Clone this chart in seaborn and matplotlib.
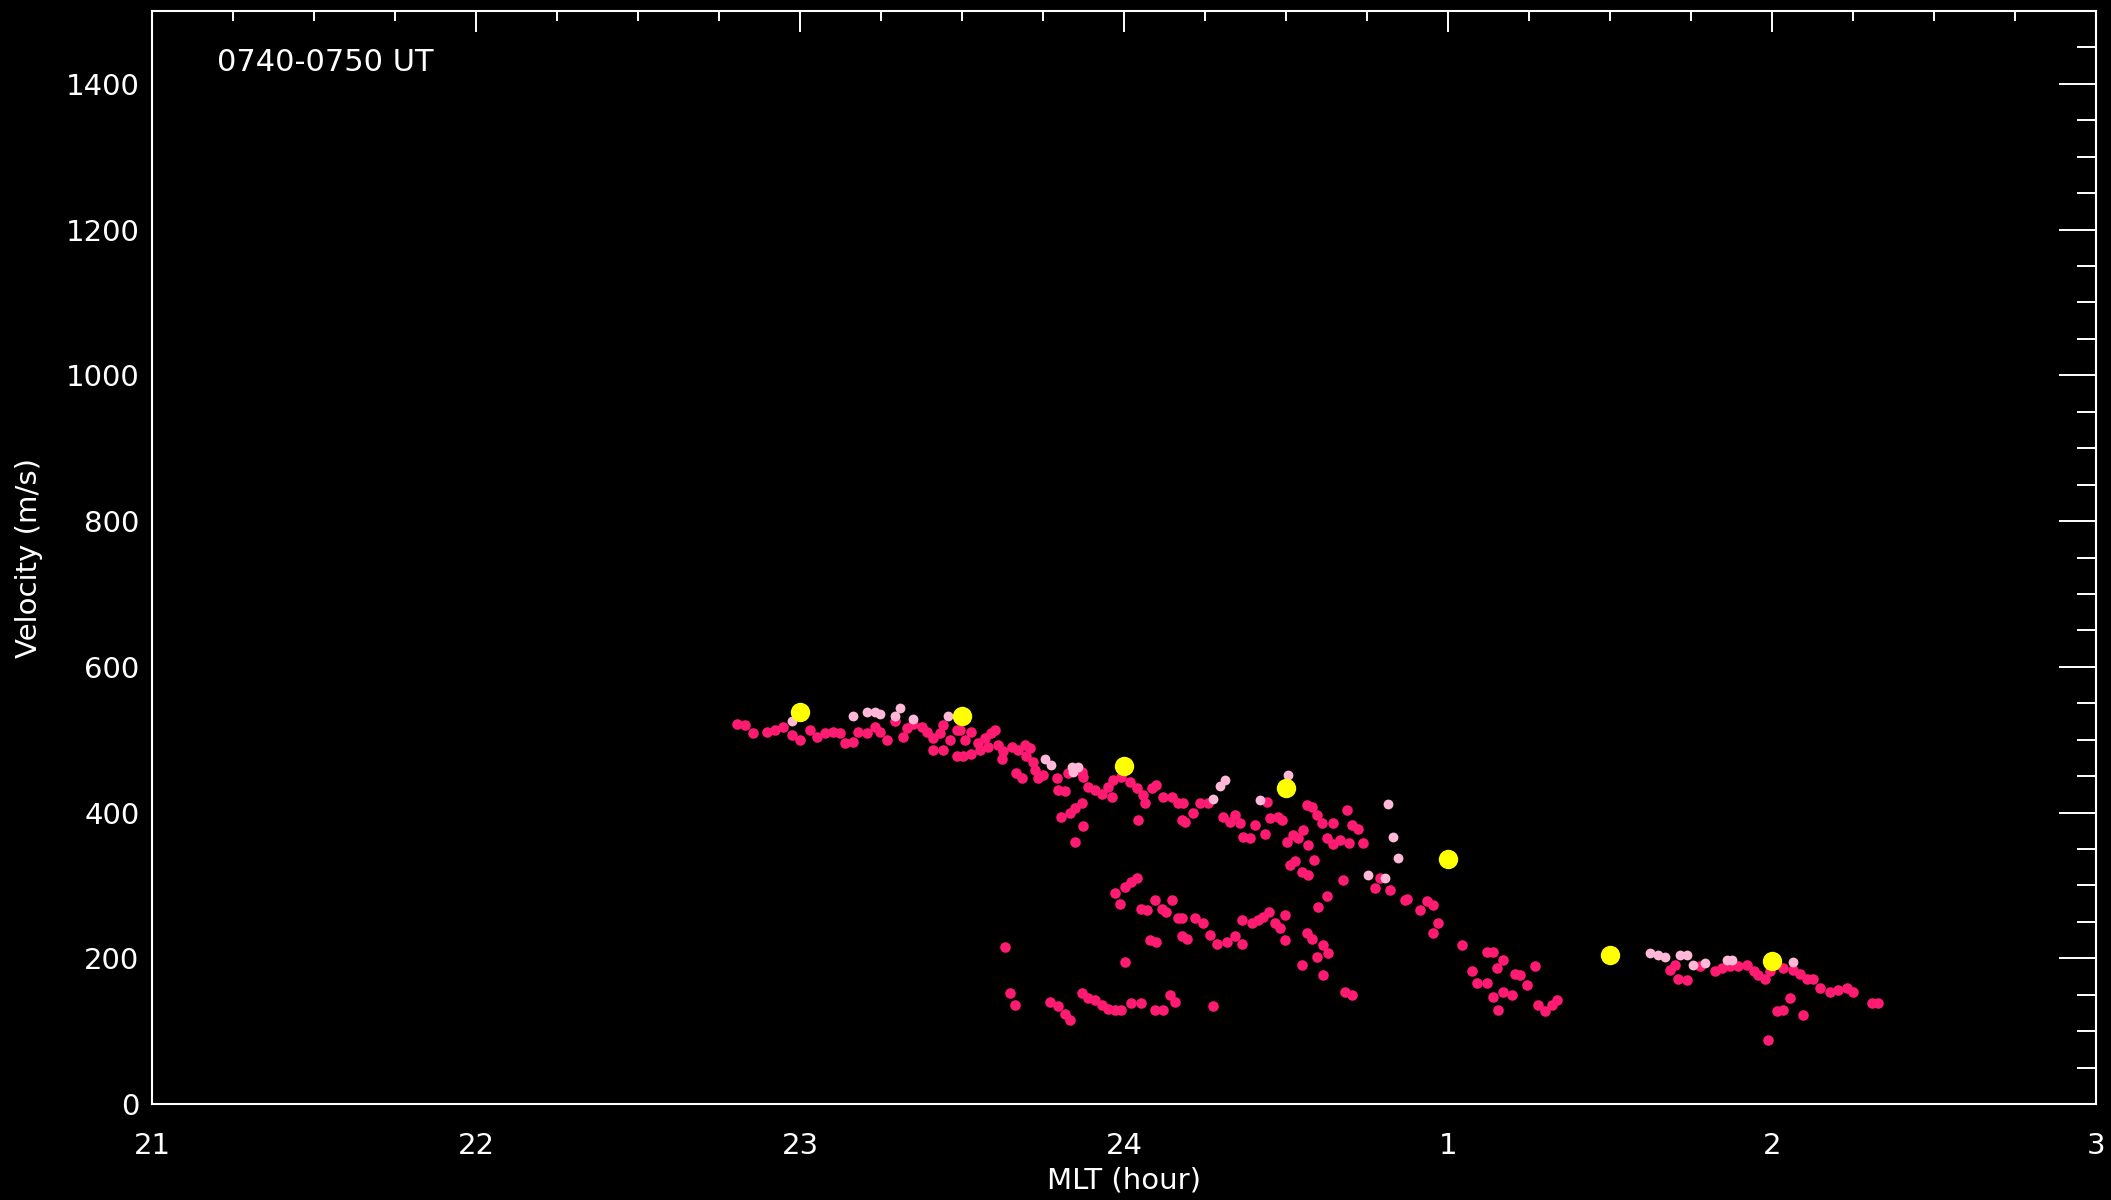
import numpy as np
import pandas as pd
import matplotlib
matplotlib.use("Agg")
import matplotlib.pyplot as plt
from matplotlib.ticker import MultipleLocator, FixedLocator, FixedFormatter
import seaborn as sns

# ---------------- data ----------------
# magenta: individual line-of-sight derived velocities
mag_mlt = [
    22.805, 22.830, 22.856, 22.897, 22.923, 22.949, 22.974, 23.000, 23.031, 23.051,
    23.077, 23.103, 23.124, 23.139, 23.165, 23.180, 23.206, 23.232, 23.247, 23.268,
    23.293, 23.319, 23.329, 23.350, 23.376, 23.391, 23.412, 23.432, 23.442, 23.463,
    23.484, 23.412, 23.442, 23.484,
    23.493, 23.509, 23.529, 23.550, 23.571, 23.591, 23.601, 23.504, 23.529, 23.555,
    23.581, 23.612, 23.627, 23.622, 23.653, 23.673, 23.694, 23.709, 23.699, 23.720,
    23.725, 23.668, 23.684, 23.735, 23.751, 23.792, 23.797, 23.818, 23.828, 23.869,
    23.874, 23.890, 23.910, 23.931, 23.951, 23.962, 23.967, 23.992, 24.018, 24.039,
    24.059, 24.064, 24.085, 24.100, 24.121, 24.147, 24.167, 24.178, 24.044, 23.869,
    23.848, 23.833, 23.807, 23.874, 23.848,
    23.632, 23.648, 23.663, 23.771, 23.797, 23.818, 23.833, 23.869, 23.890, 23.910,
    23.931, 23.951, 23.972, 23.992, 24.023, 24.054, 24.095, 24.121, 24.142, 24.157,
    23.972, 23.987, 24.003, 24.023, 24.039, 24.054, 24.070, 24.095, 24.116, 24.131,
    24.147, 24.167, 24.080, 24.100, 24.178, 24.003,
    24.183, 24.188, 24.214, 24.235, 24.260, 24.307, 24.327, 24.343, 24.358, 24.368,
    24.389, 24.404, 24.435, 24.440, 24.451, 24.476, 24.487, 24.502, 24.523, 24.538,
    24.554, 24.564, 24.579, 24.595, 24.569, 24.585, 24.610, 24.626, 24.646, 24.646,
    24.667, 24.687, 24.693, 24.703, 24.723, 24.739, 24.677, 24.513, 24.528, 24.549,
    24.569, 24.626, 24.600, 24.775, 24.790, 24.821, 24.867,
    24.178, 24.219, 24.245, 24.194, 24.266, 24.286, 24.317, 24.343, 24.363, 24.363,
    24.394, 24.415, 24.430, 24.446, 24.466, 24.482, 24.497, 24.497, 24.564, 24.579,
    24.615, 24.631, 24.595, 24.549, 24.615, 24.682, 24.703, 24.276,
    24.872, 24.913, 24.934, 24.954, 24.970, 24.954, 25.042, 25.119, 25.140, 25.170,
    25.150, 25.073, 25.088, 25.119, 25.140, 25.170, 25.196, 25.207, 25.222, 25.243,
    25.268, 25.155, 25.279, 25.299, 25.320, 25.335,
    25.685, 25.701, 25.711, 25.737, 25.778, 25.824, 25.845, 25.871, 25.896, 25.922,
    25.943, 25.958, 25.979, 25.994, 26.035, 26.066, 26.087, 26.107, 26.128, 26.148,
    26.179, 26.205, 26.231, 26.251, 26.308, 26.328, 26.056, 26.015, 26.035, 26.097,
    25.989,
]
mag_vel = [
    522, 520, 509, 511, 513, 518, 506, 500, 513, 504,
    509, 511, 509, 495, 497, 511, 509, 518, 511, 500,
    525, 504, 516, 522, 518, 511, 502, 509, 520, 500,
    513, 486, 486, 477,
    513, 500, 511, 495, 502, 509, 513, 477, 481, 486,
    490, 493, 484, 474, 490, 486, 493, 488, 477, 470,
    458, 454, 447, 447, 451, 447, 431, 429, 454, 456,
    449, 435, 431, 426, 435, 422, 445, 449, 442, 433,
    424, 413, 433, 438, 422, 422, 413, 390, 390, 413,
    406, 399, 394, 381, 360,
    216, 152, 136, 140, 134, 124, 115, 152, 145, 143,
    136, 131, 129, 129, 138, 138, 129, 129, 150, 140,
    289, 275, 298, 305, 310, 268, 266, 280, 268, 264,
    280, 255, 225, 223, 230, 195,
    413, 387, 399, 413, 413, 394, 387, 397, 385, 367,
    365, 383, 371, 415, 392, 394, 390, 360, 369, 365,
    376, 410, 408, 397, 355, 335, 385, 365, 385, 357,
    362, 403, 358, 383, 378, 358, 307, 328, 333, 319,
    314, 285, 271, 296, 310, 294, 280,
    255, 255, 248, 227, 232, 220, 223, 230, 220, 252,
    248, 252, 257, 264, 248, 241, 259, 225, 234, 227,
    218, 207, 202, 191, 177, 154, 150, 134,
    282, 266, 278, 273, 248, 234, 218, 209, 209, 198,
    186, 182, 166, 166, 147, 154, 150, 179, 177, 163,
    189, 129, 136, 127, 136, 143,
    184, 191, 172, 170, 189, 182, 186, 189, 189, 191,
    182, 177, 172, 182, 186, 184, 179, 172, 172, 159,
    154, 156, 159, 154, 138, 138, 145, 127, 129, 122,
    88,
]

# light pink: secondary estimates
pink_mlt = [
    22.974, 23.165, 23.206, 23.232, 23.247, 23.293, 23.309, 23.350, 23.458,
    23.756, 23.776, 23.838, 23.859, 23.843,
    24.312, 24.296, 24.276, 24.420, 24.507, 24.816, 24.831, 24.847, 24.754, 24.806,
    25.624, 25.649, 25.670, 25.716, 25.737, 25.757, 25.793, 25.860, 25.876, 26.066,
]
pink_vel = [
    525, 532, 538, 538, 535, 532, 543, 529, 532,
    474, 465, 463, 463, 456,
    445, 436, 419, 417, 452, 412, 366, 337, 314, 310,
    207, 205, 202, 205, 205, 191, 193, 198, 198, 195,
]

# yellow: half-hour averaged velocities
avg_mlt = [23.0, 23.5, 24.0, 24.5, 25.0, 25.5, 26.0]
avg_vel = [538, 532, 464, 434, 336, 205, 196]

x_ticks = [21, 22, 23, 24, 25, 26, 27]
x_tick_labels = ["21", "22", "23", "24", "1", "2", "3"]
y_ticks = [0, 200, 400, 600, 800, 1000, 1200, 1400]

# ---------------- styling ----------------
sns.set_theme(style="dark", rc={
    "axes.facecolor": "black",
    "figure.facecolor": "black",
    "axes.edgecolor": "white",
    "axes.grid": False,
    "text.color": "white",
    "axes.labelcolor": "white",
    "xtick.color": "white",
    "ytick.color": "white",
})
plt.rcParams["font.family"] = ["DejaVu Sans"]

fig = plt.figure(figsize=(21.11, 12), dpi=100)
ax = fig.add_axes([0.072, 0.08, 0.9209, 0.9108])
ax.set_facecolor("black")

df_mag = pd.DataFrame({"MLT": mag_mlt, "Velocity": mag_vel})
df_pink = pd.DataFrame({"MLT": pink_mlt, "Velocity": pink_vel})
df_avg = pd.DataFrame({"MLT": avg_mlt, "Velocity": avg_vel})

sns.scatterplot(data=df_mag, x="MLT", y="Velocity", ax=ax, color="#ff1a72",
                s=58, linewidth=0, zorder=3)
sns.scatterplot(data=df_pink, x="MLT", y="Velocity", ax=ax, color="#ffb8d8",
                s=50, linewidth=0, zorder=4)
sns.scatterplot(data=df_avg, x="MLT", y="Velocity", ax=ax, color="#ffff00",
                s=195, linewidth=0, zorder=5)

ax.set_xlim(21, 27)
ax.set_ylim(0, 1500)

ax.xaxis.set_major_locator(FixedLocator(x_ticks))
ax.xaxis.set_major_formatter(FixedFormatter(x_tick_labels))
ax.xaxis.set_minor_locator(MultipleLocator(0.25))
ax.yaxis.set_major_locator(FixedLocator(y_ticks))
ax.yaxis.set_minor_locator(MultipleLocator(50))

for sp in ax.spines.values():
    sp.set_color("white")
    sp.set_linewidth(1.5)
    sp.set_visible(True)

ax.tick_params(axis="both", which="both", direction="in", top=True, right=True,
               colors="white", width=1.4, labelsize=21)
ax.tick_params(axis="x", which="major", length=15, pad=20)
ax.tick_params(axis="x", which="minor", length=7.5)
ax.tick_params(axis="y", which="major", length=27, pad=9)
ax.tick_params(axis="y", which="minor", length=13.5)
ax.tick_params(axis="both", labeltop=False, labelright=False)

ax.set_xlabel("MLT (hour)", fontsize=21, color="white")
ax.set_ylabel("Velocity (m/s)", fontsize=21, color="white")
ax.xaxis.set_label_coords(0.5, -0.057)
ax.yaxis.set_label_coords(-0.056, 0.5)

ax.text(0.0334, 0.953, "0740-0750 UT", transform=ax.transAxes, fontsize=22,
        color="white", ha="left", va="center")

fig.savefig("out.png", dpi=100, facecolor="black")
